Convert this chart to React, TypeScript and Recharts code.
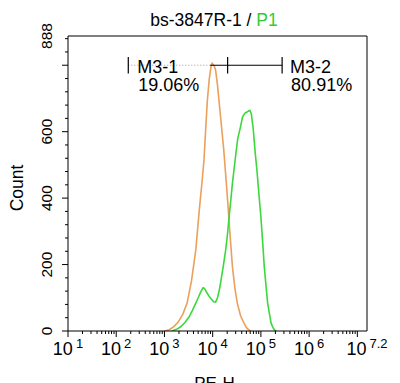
import { LineChart, Line, XAxis, YAxis, ReferenceLine, ReferenceDot } from 'recharts';

// x values are log10(PE-H), y is event count
const controlLogX = [3.0, 3.1, 3.2, 3.28, 3.38, 3.47, 3.56, 3.65, 3.72, 3.78, 3.82, 3.86, 3.89, 3.93, 3.97, 3.99, 4.03, 4.06, 4.1, 4.13, 4.18, 4.23, 4.27, 4.31, 4.36, 4.41, 4.46, 4.51, 4.58, 4.65, 4.7, 4.76, 4.8];
const controlCount = [0, 4, 14, 26, 50, 84, 150, 244, 360, 450, 515, 620, 695, 760, 800, 806, 798, 786, 740, 695, 620, 545, 470, 393, 290, 193, 130, 84, 45, 24, 10, 2, 0];

const sampleLogX = [3.15, 3.25, 3.33, 3.42, 3.51, 3.58, 3.65, 3.7, 3.75, 3.8, 3.83, 3.88, 3.92, 3.97, 4.02, 4.06, 4.1, 4.14, 4.17, 4.22, 4.27, 4.31, 4.34, 4.38, 4.41, 4.47, 4.52, 4.57, 4.62, 4.67, 4.72, 4.77, 4.8, 4.84, 4.88, 4.92, 4.96, 5.0, 5.04, 5.07, 5.11, 5.14, 5.18, 5.21, 5.25, 5.29, 5.32];
const sampleCount = [0, 5, 12, 25, 42, 62, 84, 100, 117, 130, 128, 115, 106, 96, 88, 87, 100, 125, 150, 195, 244, 295, 343, 400, 445, 520, 580, 610, 645, 656, 660, 664, 655, 610, 540, 480, 410, 343, 260, 193, 130, 84, 50, 24, 10, 2, 0];

const xLabelPos = [1, 2, 3, 4, 5, 6, 7.2];
const xLabelExp = ['1', '2', '3', '4', '5', '6', '7.2'];
const yLabels = [0, 200, 400, 600, 888];

const markerNames = ['M3-1', 'M3-2'];
const markerPcts = ['19.06%', '80.91%'];
const markerStart = [2.25, 4.31];
const markerEnd = [4.31, 5.44];
const markerLevel = 800;
const markerSolidFrom = 3.95;

const controlData = controlLogX.map((x, i) => ({ x, count: controlCount[i] }));
const sampleData = sampleLogX.map((x, i) => ({ x, count: sampleCount[i] }));

const xTicks: number[] = [];
for (let n = 1; n <= 7; n++) {
  for (let k = 1; k <= 9; k++) {
    const v = n + Math.log10(k);
    if (v <= 7.2) xTicks.push(v);
  }
}
xTicks.push(7.2);

const yTicks: number[] = [];
for (let v = 0; v <= 880; v += 40) yTicks.push(v);
yTicks.push(888);

const font = '"Liberation Sans", Arial, Helvetica, sans-serif';

function XTick(props: any) {
  const { x, y, payload } = props;
  const v = payload.value;
  const major = Number.isInteger(v);
  const idx = xLabelPos.indexOf(v);
  return (
    <g>
      {v < 7.2 && <line x1={x} x2={x} y1={y} y2={y + (major ? 6 : 3)} stroke="#000" />}
      {idx >= 0 && (
        <text x={x} y={y + 24} textAnchor="middle" fontSize={18} fill="#000" fontFamily={font}>
          <tspan>10</tspan>
          <tspan dx={3} dy={-7} fontSize={13}>{xLabelExp[idx]}</tspan>
        </text>
      )}
    </g>
  );
}

function YTick(props: any) {
  const { x, y, payload } = props;
  const v = payload.value;
  const major = v % 200 === 0;
  return (
    <g>
      {v !== 888 && <line x1={x} x2={x - (major ? 6 : 3)} y1={y} y2={y} stroke="#000" />}
      {yLabels.includes(v) && (
        <text x={x - 16} y={y} transform={`rotate(-90 ${x - 16} ${y})`} textAnchor="middle" fontSize={15.5} fill="#000" fontFamily={font}>
          {v}
        </text>
      )}
    </g>
  );
}

function markerLabel(i: number, dx: number) {
  return (p: any) => {
    const vb = p.viewBox;
    return (
      <text fontSize={18} fill="#000" fontFamily={font}>
        <tspan x={vb.x + dx} y={vb.y + 8}>{markerNames[i]}</tspan>
        <tspan x={vb.x + dx + 1} y={vb.y + 26}>{markerPcts[i]}</tspan>
      </text>
    );
  };
}

export default function App() {
  return (
    <div style={{ position: 'absolute', left: 0, top: 0, width: 400, height: 383, overflow: 'hidden', background: '#fff' }}>
      <div style={{ position: 'absolute', top: 10, left: 0, width: 428, textAlign: 'center', fontFamily: font, fontSize: 17.5, lineHeight: '20px', color: '#000' }}>
        bs-3847R-1 / <span style={{ color: '#33cc33' }}>P1</span>
      </div>
      <LineChart width={400} height={383} margin={{ top: 36, right: 33, bottom: 0, left: 0 }}>
        <XAxis
          type="number"
          dataKey="x"
          domain={[1, 7.2]}
          ticks={xTicks}
          interval={0}
          height={52}
          tickSize={0}
          tickMargin={0}
          tickLine={false}
          tick={<XTick />}
          axisLine={{ stroke: '#000' }}
          allowDataOverflow
          label={{
            content: (p: any) => (
              <text x={p.viewBox.x + p.viewBox.width / 2 - 3} y={389} textAnchor="middle" fontSize={17} fontFamily={font} fill="#000">
                PE-H
              </text>
            ),
          }}
        />
        <YAxis
          type="number"
          domain={[0, 888]}
          ticks={yTicks}
          interval={0}
          width={68}
          tickSize={0}
          tickMargin={0}
          tickLine={false}
          tick={<YTick />}
          axisLine={{ stroke: '#000' }}
          allowDataOverflow
          label={{
            content: () => (
              <text x={23} y={188} transform="rotate(-90 23 188)" textAnchor="middle" fontSize={17.5} fontFamily={font} fill="#000">
                Count
              </text>
            ),
          }}
        />
        <ReferenceLine x={7.2} stroke="#000" />
        <ReferenceLine y={888} stroke="#000" />
        <Line data={controlData} dataKey="count" type="linear" stroke="#EBA05C" strokeWidth={1.6} dot={false} isAnimationActive={false} />
        <Line data={sampleData} dataKey="count" type="linear" stroke="#3CD83C" strokeWidth={1.6} dot={false} isAnimationActive={false} />
        <ReferenceLine segment={[{ x: markerStart[0], y: markerLevel }, { x: markerSolidFrom, y: markerLevel }]} stroke="#999" strokeDasharray="1 2" />
        <ReferenceLine segment={[{ x: markerSolidFrom, y: markerLevel }, { x: markerEnd[1], y: markerLevel }]} stroke="#000" strokeWidth={1.2} />
        {[markerStart[0], markerEnd[0], markerEnd[1]].map((mx, i) => (
          <ReferenceLine key={i} segment={[{ x: mx, y: markerLevel - 25 }, { x: mx, y: markerLevel + 25 }]} stroke="#000" strokeWidth={1.2} />
        ))}
        <ReferenceDot x={markerStart[0]} y={markerLevel} r={0} fill="none" stroke="none" label={{ content: markerLabel(0, 9) }} />
        <ReferenceDot x={markerEnd[1]} y={markerLevel} r={0} fill="none" stroke="none" label={{ content: markerLabel(1, 8) }} />
      </LineChart>
    </div>
  );
}
